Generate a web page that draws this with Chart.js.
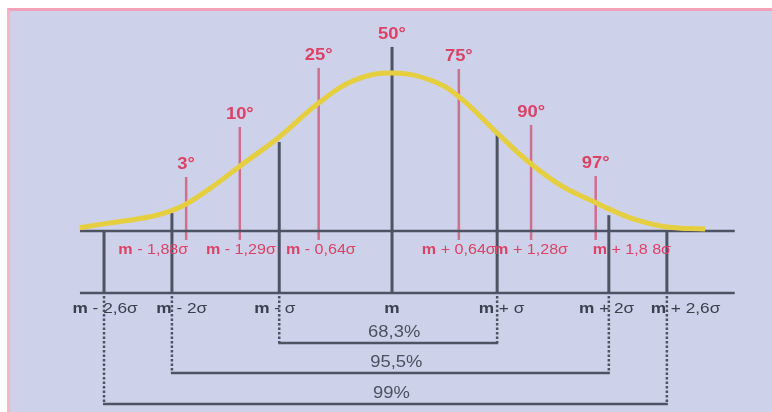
<!DOCTYPE html>
<html>
<head>
<meta charset="utf-8">
<script src="https://cdn.jsdelivr.net/npm/chart.js@4.4.1/dist/chart.umd.min.js"></script>
<style>
html, body { margin: 0; padding: 0; background: #fff; }
#wrap { position: relative; width: 772px; height: 412px; overflow: hidden; }
#panel { position: absolute; left: 7px; top: 8px; right: 0; bottom: 0; background: #cdd2ea;
         border-top: 3px solid #f4a2b9; border-left: 3px solid #f6b5c6; }
canvas { position: absolute; left: 0; top: 0; }
</style>
</head>
<body>
<div id="wrap"><div id="panel"></div><canvas id="normalChart" width="772" height="412"></canvas></div>
<script>
// normal curve, x in sigma units, y relative to peak
const curveX = [-2.85, -2.63, -2.21, -2.01, -1.88, -1.63, -1.39, -1.03, -0.67, -0.34, 0, 0.35, 0.61, 0.96, 1.26, 1.56, 1.86, 1.98, 2.21, 2.51, 2.86];
const curveY = [0.02, 0.045, 0.09, 0.13, 0.17, 0.285, 0.41, 0.595, 0.81, 0.955, 1.0, 0.955, 0.85, 0.62, 0.43, 0.28, 0.18, 0.14, 0.075, 0.025, 0.012];

// dark sigma marks
const sigmaPos = [-2.63, -2.01, -1.03, 0, 0.96, 1.98, 2.51];
const sigmaTop = [0, 0.114, 0.563, 1.165, 0.62, 0.1, 0];
const sigmaLabels = ["m - 2,6σ", "m - 2σ", "m - σ", "m", "m + σ", "m + 2σ", "m + 2,6σ"];
const sigmaLabelPos = [-2.62, -1.92, -1.07, 0, 1.0, 1.96, 2.68];

// pink percentile marks
const pctPos = [-1.88, -1.39, -0.67, 0.61, 1.27, 1.86];
const pctTop = [0.342, 0.658, 1.032, 1.025, 0.671, 0.348];
const pctLabels = ["3°", "10°", "25°", "75°", "90°", "97°"];
const pctAxisLabels = ["m - 1,88σ", "m - 1,29σ", "m - 0,64σ", "m + 0,64σ", "m + 1,28σ", "m + 1,8 8σ"];
const pctAxisLabelPos = [-2.18, -1.38, -0.65, 0.61, 1.27, 2.19];

// coverage brackets (indices into sigmaPos)
const bracketLabels = ["68,3%", "95,5%", "99%"];
const bracketFrom = [2, 1, 0];
const bracketTo = [4, 5, 6];
const bracketLevel = [-0.709, -0.899, -1.095];

const axisLeft = -2.85, axisRight = 3.13;
const upperBase = 0, lowerBase = -0.392;

const DARK = "#4d5363", PINK = "#cf6f8c", PINK_TXT = "#db4266", TXT = "#3b404e";
const FONT = '"Liberation Sans", Arial, sans-serif';
const STRETCH = 1.15;

function drawLabel(ctx, text, cx, cy, size, color, weight) {
    ctx.save();
    ctx.fillStyle = color;
    ctx.textBaseline = "middle";
    ctx.textAlign = "left";
    const parts = text.startsWith("m") ? [["m", "700"], [text.slice(1), weight]] : [[text, weight]];
    let w = 0;
    parts.forEach(p => {
        ctx.font = `${p[1]} ${size}px ${FONT}`;
        p.push(ctx.measureText(p[0]).width);
        w += p[2];
    });
    ctx.translate(cx, cy);
    ctx.scale(STRETCH, 1);
    let xx = -w / 2;
    parts.forEach(p => {
        ctx.font = `${p[1]} ${size}px ${FONT}`;
        ctx.fillText(p[0], xx, 0);
        xx += p[2];
    });
    ctx.restore();
}

function seg(ctx, x1, y1, x2, y2) {
    ctx.beginPath();
    ctx.moveTo(x1, y1);
    ctx.lineTo(x2, y2);
    ctx.stroke();
}

const diagram = {
    id: "diagram",
    beforeDatasetsDraw(chart) {
        const { ctx, scales: { x, y } } = chart;
        const X = v => x.getPixelForValue(v), Y = v => y.getPixelForValue(v);
        ctx.save();
        ctx.lineCap = "butt";

        // pink percentile lines
        ctx.strokeStyle = PINK;
        ctx.lineWidth = 2.5;
        pctPos.forEach((v, i) => seg(ctx, X(v), Y(pctTop[i]), X(v), Y(upperBase) + 9));

        // base lines
        ctx.strokeStyle = DARK;
        ctx.lineWidth = 2.5;
        seg(ctx, X(axisLeft), Y(upperBase), X(axisRight), Y(upperBase));
        seg(ctx, X(axisLeft), Y(lowerBase), X(axisRight), Y(lowerBase));

        // sigma lines down to the lower base
        ctx.lineWidth = 3;
        sigmaPos.forEach((v, i) => seg(ctx, X(v), Y(sigmaTop[i]), X(v), Y(lowerBase)));

        // dashed drops and brackets
        ctx.lineWidth = 2.5;
        bracketLabels.forEach((_, i) => {
            const xa = X(sigmaPos[bracketFrom[i]]), xb = X(sigmaPos[bracketTo[i]]);
            const yb = Y(bracketLevel[i]);
            ctx.setLineDash([2.5, 2]);
            seg(ctx, xa, Y(lowerBase) + 3, xa, yb);
            seg(ctx, xb, Y(lowerBase) + 3, xb, yb);
            ctx.setLineDash([]);
            seg(ctx, xa - 1, yb, xb + 1, yb);
        });
        ctx.restore();
    },
    afterDatasetsDraw(chart) {
        const { ctx, scales: { x, y } } = chart;
        const X = v => x.getPixelForValue(v), Y = v => y.getPixelForValue(v);

        pctLabels.forEach((t, i) => drawLabel(ctx, t, X(pctPos[i]), Y(pctTop[i]) - 12, 16, PINK_TXT, "700"));
        drawLabel(ctx, "50°", X(sigmaPos[3]), Y(sigmaTop[3]) - 12, 16, PINK_TXT, "700");

        pctAxisLabels.forEach((t, i) => drawLabel(ctx, t, X(pctAxisLabelPos[i]), Y(upperBase) + 19, 14, PINK_TXT, "400"));
        sigmaLabels.forEach((t, i) => drawLabel(ctx, t, X(sigmaLabelPos[i]), Y(lowerBase) + 16, 15, TXT, "400"));

        bracketLabels.forEach((t, i) => {
            const cx = (X(sigmaPos[bracketFrom[i]]) + X(sigmaPos[bracketTo[i]])) / 2 + 6;
            drawLabel(ctx, t, cx, Y(bracketLevel[i]) - 10, 16, "#4c5160", "400");
        });
    },
};

new Chart(document.getElementById("normalChart").getContext("2d"), {
    type: "line",
    data: {
        datasets: [{
            data: curveX.map((v, i) => ({ x: v, y: curveY[i] })),
            borderColor: "#e5cf40",
            borderWidth: 5,
            pointRadius: 0,
            tension: 0.4,
            fill: false,
        }],
    },
    options: {
        responsive: false,
        devicePixelRatio: 1,
        animation: false,
        layout: { padding: 0 },
        plugins: { legend: { display: false }, tooltip: { enabled: false } },
        scales: {
            x: { type: "linear", min: -3.58, max: 3.47, display: false },
            y: { min: -1.146, max: 1.462, display: false },
        },
    },
    plugins: [diagram],
});
</script>
</body>
</html>
